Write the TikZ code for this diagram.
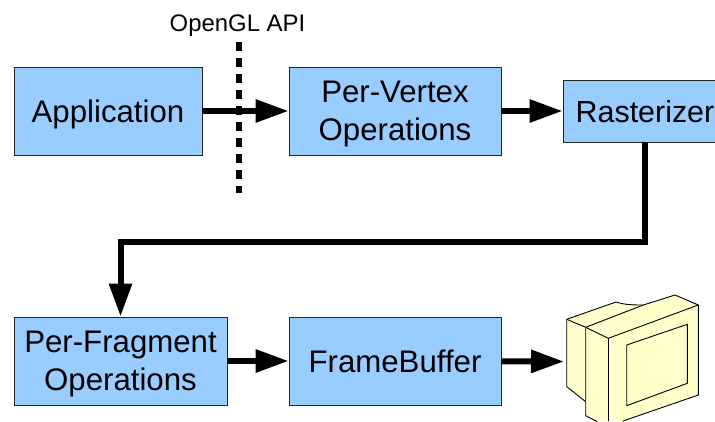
\documentclass[tikz,border=0pt]{standalone}
\usepackage{fontspec}
\setmainfont{Liberation Sans}
\usetikzlibrary{arrows.meta}
\definecolor{c1}{RGB}{153,204,255}
\definecolor{c2}{RGB}{255,255,204}
\tikzset{
  stage/.style={draw=black!85,line width=0.9pt,fill=c1,inner sep=0pt,align=center,text depth=0pt,
    font=\fontsize{31.2}{37.5}\selectfont},
  flow/.style={line width=6pt,-{Triangle[length=33pt,width=22pt]}},
  screen/.style={draw=black,line width=0.9pt,fill=c2,line join=round}
}
\begin{document}
\begin{tikzpicture}[x=1pt,y=-1pt]
\clip (0,0) rectangle (715,421);
\useasboundingbox (0,0) rectangle (715,421);

%%% Top row
\node[stage,minimum width=188pt,minimum height=88pt] (app) at (108,111) {Application};
\node[stage,minimum width=212pt,minimum height=88pt] (vertex) at (395,111) {Per-Vertex\\Operations};
\node[stage,minimum width=164pt,minimum height=62pt,font=\fontsize{30.4}{37.5}\selectfont] (rast) at (645,111) {Rasterizer};

%%% Bottom row
\node[stage,minimum width=213pt,minimum height=88pt] (frag) at (120.5,361) {Per-Fragment\\Operations};
\node[stage,minimum width=212pt,minimum height=88pt] (fbuf) at (395,361) {FrameBuffer};

%%% Monitor
\fill[c2] (566.7,319.3) -- (616,302) -- (643.3,305) -- (675,295) -- (698.3,305) -- (698.3,395) -- (623,421) -- (597,421) -- (585.7,415.7) -- (585.7,401.7) -- (566.7,386.7) -- cycle;
\draw[screen,fill=none] (585.7,401.7) -- (566.7,386.7) -- (566.7,319.3) -- (616,302) .. controls (625,305) and (635,305) .. (643.3,305) -- (675,295) -- (698.3,305) -- (698.3,395) -- (623,421);
\draw[screen] (566.7,319.3) -- (585.7,327.3) -- (608.3,338.3);
\draw[screen] (585.7,327.3) -- (643.3,305);
\draw[screen] (608.3,338.3) -- (698.3,305);
\draw[screen] (585.7,327.3) -- (585.7,415.7) -- (597,421.5);
\draw[screen] (608.3,338.3) -- (608.3,421);
\draw[screen] (626.7,345) -- (687.3,324.3) -- (687.3,383.3) -- (626.7,405.7) -- cycle;
\coordinate (mon) at (564,361.5);

%%% API line
\node[font=\fontsize{23.9}{28}\selectfont,inner sep=0pt] (api) at (237.5,26) {OpenGL API};
\coordinate (apitop) at (239,42);
\coordinate (apibot) at (239,193);
\draw[line width=6pt,dash pattern=on 9pt off 7pt] (apitop) -- (apibot);

%%% Arrows
\draw[flow] (app) -- (vertex);
\draw[flow] (vertex) -- (rast);
\coordinate (bend) at (645,242);
\draw[flow] (rast.south) -- (bend) -| (frag.north);
\draw[flow] (frag) -- (fbuf);
\draw[flow] (fbuf) -- (mon);
\end{tikzpicture}
\end{document}
